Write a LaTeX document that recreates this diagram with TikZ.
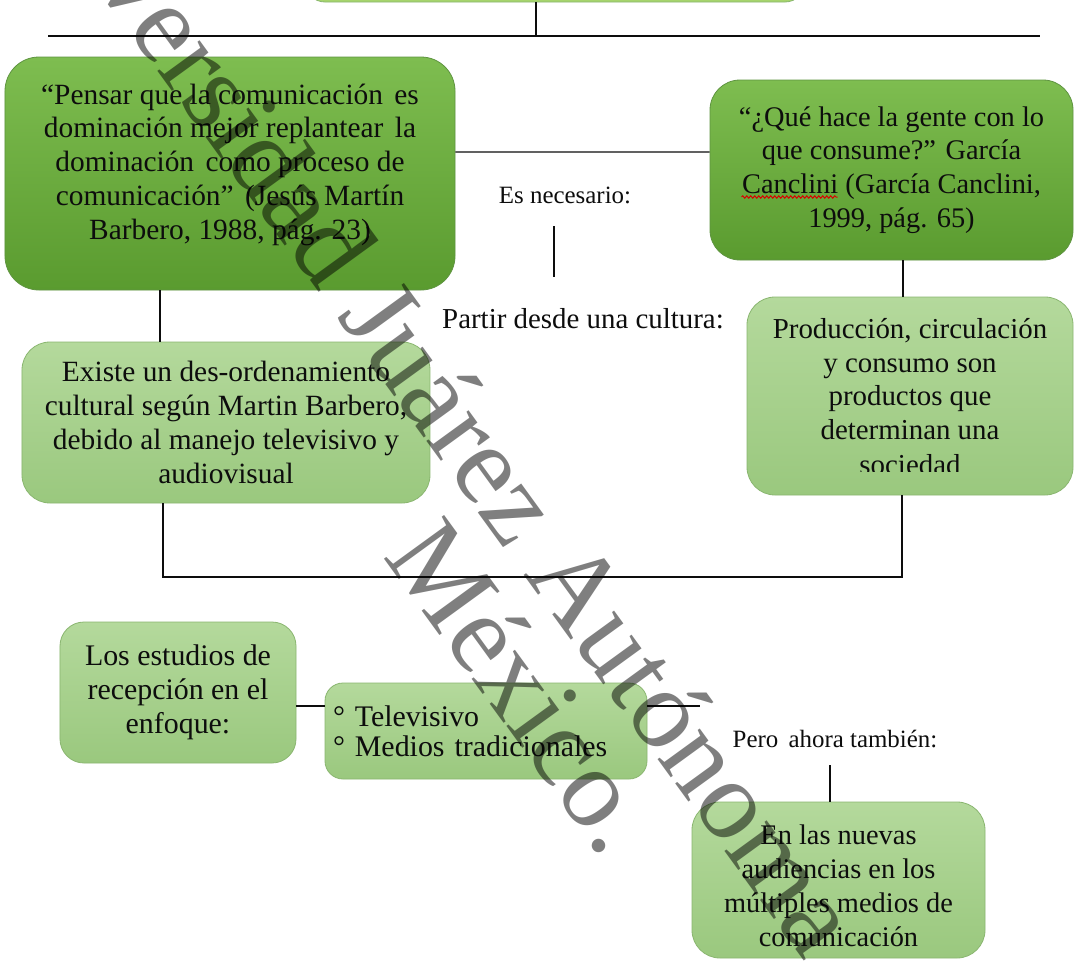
\documentclass[tikz,border=0pt]{standalone}
\usepackage{fontspec}
\setmainfont{Liberation Serif}
\newfontfamily\wmfont{Liberation Serif}
\usetikzlibrary{decorations.pathmorphing}
\definecolor{dgTop}{HTML}{7EBD50}
\definecolor{dgBot}{HTML}{5A9B2F}
\definecolor{dgLine}{HTML}{5E9440}
\definecolor{lgTop}{HTML}{B4D99C}
\definecolor{lgBot}{HTML}{9AC87E}
\definecolor{lgLine}{HTML}{8AB670}
\definecolor{topGreen}{HTML}{A6D46C}
\definecolor{ink}{HTML}{0D0D0D}
\begin{document}
\begin{tikzpicture}[x=1bp,y=-1bp,
  boxtext/.style={font=\fontsize{29.5}{34}\selectfont, text=ink, align=center, inner sep=0pt},
  darkbox/.style={boxtext, draw=dgLine, line width=0.8bp, rounded corners=34bp, top color=dgTop, bottom color=dgBot},
  lightbox/.style={boxtext, draw=lgLine, line width=0.8bp, rounded corners=28bp, top color=lgTop, bottom color=lgBot},
  topbox/.style={draw=lgLine, line width=0.8bp, fill=topGreen, rounded corners=20bp, inner sep=0pt},
  conn/.style={draw=ink, line width=1.4bp},
  plain/.style={inner sep=0pt, text=ink},
  wm/.style={font=\wmfont\fontsize{114}{114}\selectfont, text=black, text opacity=0.5, inner sep=0pt, rotate=-54, anchor=base west}
]
\useasboundingbox (0,0) rectangle (1075,961);
\fill[white] (0,0) rectangle (1075,961);

% top box (cut off)
\node[topbox, minimum width=500bp, minimum height=60bp] (top) at (555,-28) {};
\coordinate (hmid) at (536,36);
\coordinate (hl) at (48,36);
\coordinate (hr) at (1040,36);
\draw[conn] (hl) -- (hr);
\draw[conn] (top.south -| hmid) -- (hmid);

% upper boxes
\node[darkbox, minimum width=450bp, minimum height=233bp] (A) at (230,173.5)
  {“Pensar que la comunicación\hspace{4bp} es\\dominación mejor replantear\hspace{4bp} la\\dominación\hspace{4bp} como proceso de\\comunicación”\hspace{4bp} (Jesús Martín\\Barbero, 1988, pág. 23)\\[-10bp]\mbox{}};
\node[darkbox, rounded corners=30bp, minimum width=363bp, minimum height=180bp, font=\fontsize{28.5}{34}\selectfont] (B) at (891.5,170)
  {“¿Qué hace la gente con lo\\que consume?” García\\Canclini (García Canclini,\\1999, pág. 65)};
\draw[red!85!black, line width=1bp, decorate, decoration={snake, amplitude=1.2bp, segment length=4bp}]
  ([xshift=-150bp,yshift=-27bp]B.center) -- ([xshift=-54bp,yshift=-27bp]B.center);
\draw[conn] ([yshift=21.5bp]A.east) -- ([yshift=18bp]B.west);

\node[plain, font=\fontsize{25}{28}\selectfont] (es) at (565,195) {Es necesario:};
\node[plain, font=\fontsize{29}{32}\selectfont] (partir) at (583,319) {Partir desde una cultura:};
\coordinate (esl) at (554,226);
\coordinate (partl) at (554,277);
\draw[conn] (esl) -- (partl);

% middle boxes
\node[lightbox, minimum width=408bp, minimum height=161bp] (C) at (226,422.5)
  {Existe un des-ordenamiento\\cultural según Martin Barbero,\\debido al manejo televisivo y\\audiovisual};
\coordinate (xA) at (160,0);
\draw[conn] (A.south -| xA) -- (C.north -| xA);

\node[lightbox, minimum width=326bp, minimum height=198bp, font=\fontsize{29}{34}\selectfont] (D) at (910,396)
  {Producción, circulación\\y consumo son\\productos que\\determinan una\\\phantom{sociedad}};
\begin{scope}
  \clip (760,440) rectangle (1060,471);
  \node[plain, font=\fontsize{29}{34}\selectfont, anchor=base] (Dlast) at (910,474) {sociedad};
\end{scope}
\coordinate (xD) at (903,0);
\draw[conn] (B.south -| xD) -- (D.north -| xD);

\coordinate (xC) at (163,0);
\coordinate (xE) at (902,0);
\coordinate (yb) at (0,577);
\draw[conn] (C.south -| xC) -- (xC |- yb) -- (xE |- yb) -- (D.south -| xE);

% lower boxes
\node[lightbox, rounded corners=24bp, minimum width=236bp, minimum height=141bp, font=\fontsize{30}{34}\selectfont] (E) at (178,692.5)
  {Los estudios de\\recepción en el\\enfoque:};
\node[lightbox, rounded corners=18bp, minimum width=322bp, minimum height=96bp, align=left, text width=306bp, font=\fontsize{30}{30}\selectfont] (F) at (486,731)
  {° Televisivo\\° Medios tradicionales};
\coordinate (ef) at (0,706);
\coordinate (fend) at (700,706);
\draw[conn] (E.east |- ef) -- (F.west |- ef);
\draw[conn] (F.east |- ef) -- (fend);

\node[plain, font=\fontsize{25}{28}\selectfont] (pero) at (835,739) {Pero\hspace{4bp} ahora también:};
\node[lightbox, minimum width=293bp, minimum height=156bp, font=\fontsize{28.5}{34}\selectfont] (G) at (838.5,880)
  {\mbox{}\\[-2bp]En las nuevas\\audiencias en los\\múltiples medios de\\comunicación};
\coordinate (pg) at (830,765);
\draw[conn] (pg) -- (G.north -| pg);

% watermark
\node[wm] (wm1) at (-7.0,-155.7) {Universidad Juárez Autónoma};
\node[wm] (wm2) at (382.8,556.2) {México.};
\end{tikzpicture}
\end{document}
